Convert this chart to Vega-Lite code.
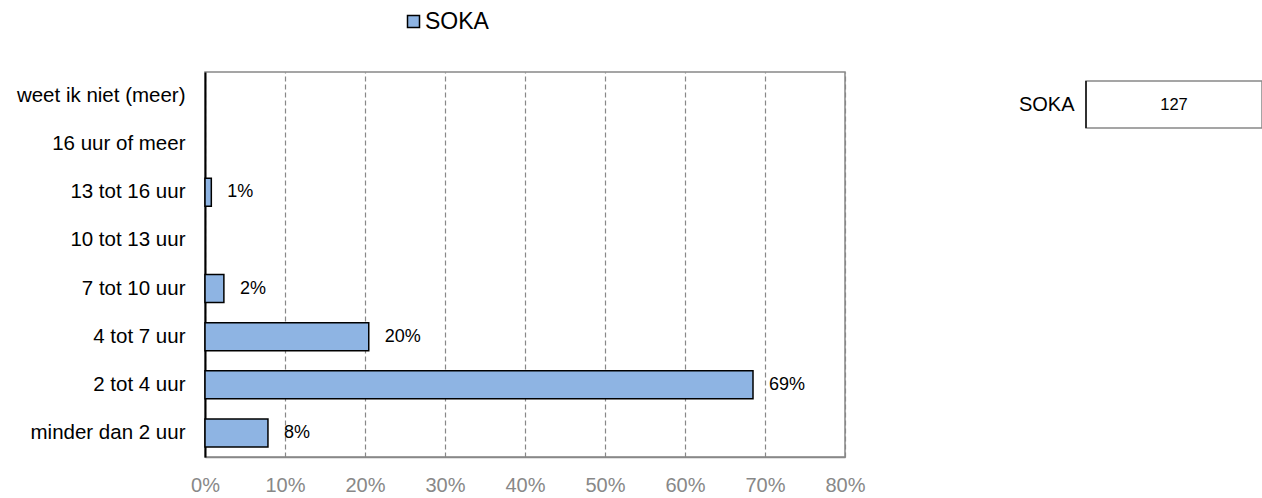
{
  "$schema": "https://vega.github.io/schema/vega-lite/v6.json",
  "padding": {"left": 15, "top": 10, "right": 0, "bottom": 0},
  "bounds": "flush",
  "spacing": 241,
  "config": {
    "font": "Liberation Sans",
    "legend": {"labelFont": "Liberation Sans"}
  },
  "datasets": {
    "main": [
      {"category": "minder dan 2 uur", "series": "SOKA", "share": 0.0787},
      {"category": "2 tot 4 uur", "series": "SOKA", "share": 0.685},
      {"category": "4 tot 7 uur", "series": "SOKA", "share": 0.2047},
      {"category": "7 tot 10 uur", "series": "SOKA", "share": 0.0236},
      {"category": "13 tot 16 uur", "series": "SOKA", "share": 0.0079}
    ],
    "table": [
      {"group": "SOKA", "n": 127, "left": 0, "right": 1, "mid": 0.5}
    ]
  },
  "hconcat": [
    {
      "width": 640,
      "height": 385,
      "data": {"name": "main"},
      "view": {"stroke": "#888888", "strokeWidth": 1.5},
      "encoding": {
        "y": {
          "field": "category",
          "type": "nominal",
          "scale": {
            "domain": ["weet ik niet (meer)", "16 uur of meer", "13 tot 16 uur", "10 tot 13 uur", "7 tot 10 uur", "4 tot 7 uur", "2 tot 4 uur", "minder dan 2 uur"]
          },
          "axis": {
            "title": null,
            "ticks": false,
            "labelFontSize": 20.5,
            "labelColor": "#000000",
            "labelPadding": 20,
            "domainColor": "#000000",
            "domainWidth": 2,
            "grid": false
          }
        },
        "x": {
          "field": "share",
          "type": "quantitative",
          "scale": {"domain": [0, 0.8], "nice": false},
          "axis": {
            "title": null,
            "format": ".0%",
            "values": [0, 0.1, 0.2, 0.3, 0.4, 0.5, 0.6, 0.7, 0.8],
            "ticks": false,
            "labelFlush": false,
            "labelFontSize": 20,
            "labelColor": "#888888",
            "labelPadding": 18,
            "domainColor": "#888888",
            "domainWidth": 1.5,
            "grid": true,
            "gridColor": "#888888",
            "gridDash": [5, 3],
            "gridWidth": 1.2
          }
        }
      },
      "layer": [
        {
          "mark": {"type": "bar", "size": 28, "stroke": "#000000", "strokeWidth": 1.5},
          "encoding": {
            "color": {
              "field": "series",
              "type": "nominal",
              "scale": {"range": ["#8EB4E3"]},
              "legend": {
                "title": null,
                "orient": "none",
                "legendX": 197,
                "legendY": -62,
                "symbolType": "square",
                "symbolSize": 144,
                "symbolStrokeColor": "#000000",
                "symbolStrokeWidth": 1.5,
                "labelFontSize": 23,
                "labelColor": "#000000",
                "labelOffset": 0
              }
            }
          }
        },
        {
          "mark": {"type": "text", "align": "left", "dx": 16, "fontSize": 18, "color": "#000000"},
          "encoding": {
            "text": {"field": "share", "type": "quantitative", "format": ".0%"}
          }
        }
      ]
    },
    {
      "width": 176,
      "height": 65,
      "data": {"name": "table"},
      "view": {"stroke": null},
      "encoding": {
        "y": {
          "field": "group",
          "type": "nominal",
          "scale": {"paddingInner": 0, "paddingOuter": 0.1915},
          "axis": {
            "title": null,
            "ticks": false,
            "domain": false,
            "labelFontSize": 20,
            "labelColor": "#000000",
            "labelPadding": 12
          }
        }
      },
      "layer": [
        {
          "mark": {"type": "bar", "fill": "#ffffff", "stroke": "#888888", "strokeWidth": 1.5},
          "encoding": {
            "x": {"field": "left", "type": "quantitative", "scale": {"domain": [0, 1], "nice": false}, "axis": null},
            "x2": {"field": "right"}
          }
        },
        {
          "mark": {"type": "tick", "color": "#000000", "size": 47, "thickness": 2},
          "encoding": {
            "x": {"field": "left", "type": "quantitative"}
          }
        },
        {
          "mark": {"type": "text", "fontSize": 16.5, "color": "#000000"},
          "encoding": {
            "x": {"field": "mid", "type": "quantitative"},
            "text": {"field": "n", "type": "quantitative"}
          }
        }
      ]
    }
  ]
}
